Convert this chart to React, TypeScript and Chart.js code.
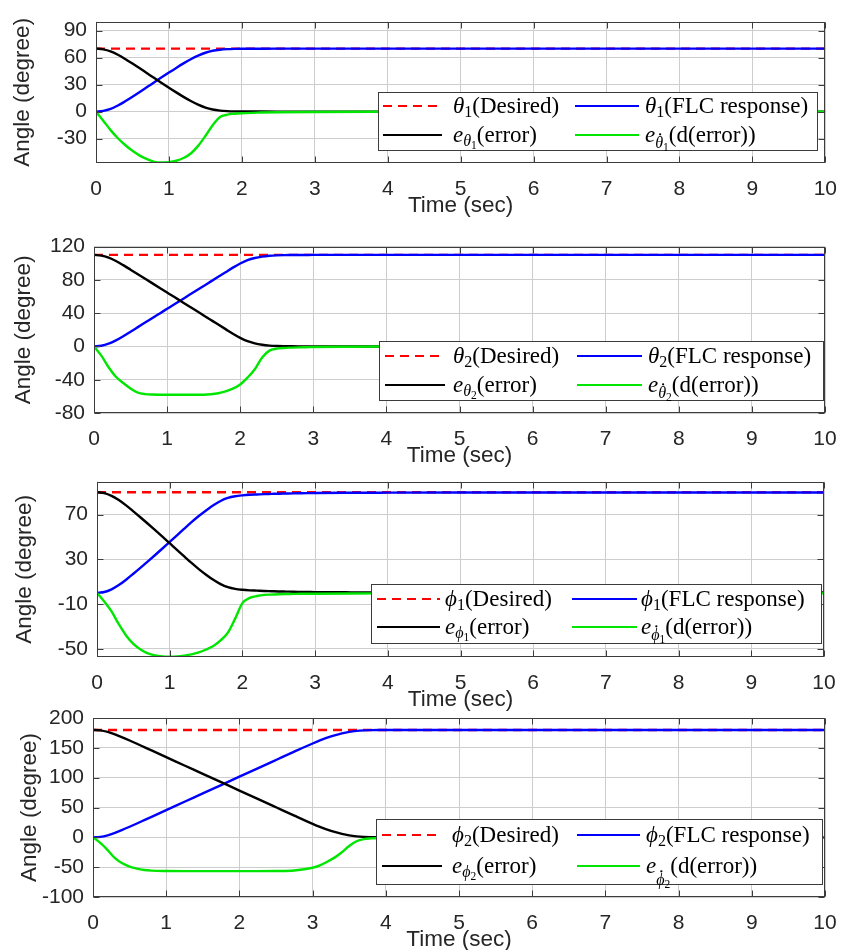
import React, { useEffect, useRef } from 'react';
import { Chart, registerables } from 'chart.js';

Chart.register(...registerables);

// ---------------- data ----------------
const X_TICKS = [0, 1, 2, 3, 4, 5, 6, 7, 8, 9, 10];
const T_DESIRED = [0, 10];

// Panel 1: theta_1
const T1 = [0, 0.1, 0.2, 0.3, 0.4, 0.5, 0.6, 0.7, 0.8, 0.9, 1.0, 1.1, 1.2, 1.3, 1.4, 1.5, 1.6, 1.7, 1.8, 1.9, 2.0, 2.25, 2.5, 3, 4, 5, 6, 7, 8, 9, 10];
const DES1 = [70, 70];
const RESP1 = [0, 0.8, 3.0, 6.8, 11.5, 16.6, 21.9, 27.3, 32.7, 38.1, 43.4, 48.6, 53.6, 58.2, 62.2, 65.4, 67.6, 68.8, 69.4, 69.7, 69.85, 69.9, 69.95, 70, 70, 70, 70, 70, 70, 70, 70];
const ERR1 = [70, 69.2, 67, 63.2, 58.5, 53.4, 48.1, 42.7, 37.3, 31.9, 26.6, 21.4, 16.4, 11.8, 7.8, 4.6, 2.4, 1.2, 0.6, 0.3, 0.15, 0.1, 0.05, 0, 0, 0, 0, 0, 0, 0, 0];
const DERR1 = [0, -10, -20.5, -29.5, -37, -43.5, -48.8, -52.8, -55.8, -56.5, -56, -54.5, -51.5, -46.5, -38, -27, -15, -6, -3.3, -2.3, -1.7, -1, -0.6, -0.3, -0.1, 0, 0, 0, 0, 0, 0];
const Y1_TICKS = [-30, 0, 30, 60, 90];
const Y1_RANGE = [-57, 100];

// Panel 2: theta_2
const T2 = [0, 0.1, 0.2, 0.3, 0.4, 0.5, 0.6, 0.7, 0.8, 0.9, 1.0, 1.1, 1.2, 1.3, 1.4, 1.5, 1.6, 1.7, 1.8, 1.9, 2.0, 2.1, 2.2, 2.3, 2.4, 2.5, 2.6, 2.7, 2.8, 2.9, 3.0, 3.5, 4, 5, 6, 7, 8, 9, 10];
const DES2 = [110, 110];
const RESP2 = [0, 0.8, 3.3, 7.3, 12.3, 17.7, 23.2, 28.7, 34.2, 39.7, 45.2, 50.7, 56.2, 61.7, 67.2, 72.7, 78.2, 83.7, 89.2, 94.7, 99.7, 103.7, 106.3, 108, 109, 109.5, 109.75, 109.85, 109.92, 109.96, 110, 110, 110, 110, 110, 110, 110, 110, 110];
const ERR2 = [110, 109.2, 106.7, 102.7, 97.7, 92.3, 86.8, 81.3, 75.8, 70.3, 64.8, 59.3, 53.8, 48.3, 42.8, 37.3, 31.8, 26.3, 20.8, 15.3, 10.3, 6.3, 3.7, 2, 1, 0.5, 0.25, 0.15, 0.08, 0.04, 0, 0, 0, 0, 0, 0, 0, 0, 0];
const DERR2 = [0, -11, -25, -36.5, -44, -50.5, -55.5, -57.3, -57.8, -58, -58, -58, -58, -58, -58, -58, -57.5, -56.3, -54, -50.7, -45.7, -37.5, -27.5, -13.3, -5, -2.7, -1.8, -1.4, -1.1, -0.9, -0.7, -0.3, -0.1, 0, 0, 0, 0, 0, 0];
const Y2_TICKS = [-80, -40, 0, 40, 80, 120];
const Y2_RANGE = [-80, 120];

// Panel 3: phi_1
const T3 = [0, 0.1, 0.2, 0.3, 0.4, 0.5, 0.6, 0.7, 0.8, 0.9, 1.0, 1.1, 1.2, 1.3, 1.4, 1.5, 1.6, 1.7, 1.8, 1.9, 2.0, 2.1, 2.2, 2.3, 2.4, 2.5, 2.6, 2.7, 2.8, 2.9, 3.0, 3.5, 4, 5, 6, 7, 8, 9, 10];
const DES3 = [90, 90];
const RESP3 = [0, 0.8, 3.2, 7.0, 11.8, 17.1, 22.6, 28.2, 33.9, 39.7, 45.6, 51.5, 57.4, 63.2, 68.7, 73.7, 78.3, 82.2, 84.9, 86.4, 87.2, 87.7, 88.0, 88.3, 88.5, 88.7, 88.85, 89.0, 89.1, 89.2, 89.3, 89.5, 89.6, 89.7, 89.7, 89.7, 89.7, 89.7, 89.7];
const ERR3 = [90, 89.2, 86.8, 83, 78.2, 72.9, 67.4, 61.8, 56.1, 50.3, 44.4, 38.5, 32.6, 26.8, 21.3, 16.3, 11.7, 7.8, 5.1, 3.6, 2.8, 2.3, 2.0, 1.7, 1.5, 1.3, 1.15, 1.0, 0.9, 0.8, 0.7, 0.5, 0.4, 0.3, 0.3, 0.3, 0.3, 0.3, 0.3];
const DERR3 = [0, -7.7, -16.5, -28, -38, -45.5, -50.5, -54, -55.8, -56.7, -57, -56.8, -56.1, -55, -53.2, -50.6, -47.5, -42.5, -35.5, -23, -9.1, -4.5, -2.8, -1.8, -1.5, -1.2, -1, -0.9, -0.8, -0.75, -0.7, -0.5, -0.4, -0.3, -0.3, -0.3, -0.3, -0.3, -0.3];
const Y3_TICKS = [-50, -10, 30, 70];
const Y3_RANGE = [-57.3, 99.5];

// Panel 4: phi_2
const T4 = [0, 0.1, 0.2, 0.3, 0.4, 0.5, 0.6, 0.7, 0.8, 1.0, 1.25, 1.5, 1.75, 2.0, 2.25, 2.5, 2.75, 3.0, 3.1, 3.2, 3.3, 3.4, 3.5, 3.6, 3.7, 3.8, 3.9, 4.0, 4.5, 5, 6, 7, 8, 9, 10];
const DES4 = [180, 180];
const RESP4 = [0, 0.8, 3.4, 7.5, 12.4, 17.7, 23.2, 28.8, 34.4, 45.6, 59.6, 73.6, 87.6, 101.6, 115.6, 129.6, 143.6, 157.3, 162.4, 167, 171, 174.3, 176.8, 178.4, 179.3, 179.7, 179.9, 179.95, 180, 180, 180, 180, 180, 180, 180];
const ERR4 = [180, 179.2, 176.6, 172.5, 167.6, 162.3, 156.8, 151.2, 145.6, 134.4, 120.4, 106.4, 92.4, 78.4, 64.4, 50.4, 36.4, 22.7, 17.6, 13, 9, 5.7, 3.2, 1.6, 0.7, 0.3, 0.1, 0.05, 0, 0, 0, 0, 0, 0, 0];
const DERR4 = [0, -9.4, -21.5, -35, -43.5, -49, -52.5, -54.7, -55.8, -56.5, -56.7, -56.7, -56.7, -56.7, -56.7, -56.5, -55.6, -51, -47, -41, -34, -25, -14.5, -6.5, -3, -1.8, -1.2, -0.9, -0.5, -0.2, -0.1, 0, 0, 0, 0];
const Y4_TICKS = [-100, -50, 0, 50, 100, 150, 200];
const Y4_RANGE = [-100, 200];

// Text
const X_TITLE = 'Time (sec)';
const Y_TITLE = 'Angle (degree)';
const SYMBOLS = ['θ', 'θ', 'ϕ', 'ϕ'];
const INDICES = ['1', '2', '1', '2'];
const LBL_DESIRED = '(Desired)';
const LBL_RESP = '(FLC response)';
const LBL_ERR = '(error)';
const LBL_DERR = '(d(error))';

// ---------------- styles ----------------
const SANS = '"Liberation Sans", Arial, Helvetica, sans-serif';
const SERIF = '"Liberation Serif", "DejaVu Serif", serif';
const INK = '#262626';
const GRID = '#cdcdcd';
const FRAME = '#3c3c3c';
const C_DES = '#ff0000';
const C_RESP = '#0000ff';
const C_ERR = '#000000';
const C_DERR = '#00e600';
const DASH = [9, 6];

type Part = { t: string; it?: boolean; s?: number; dy?: number; dot?: boolean };

function drawRich(ctx: CanvasRenderingContext2D, x: number, y: number, parts: Part[], base: number) {
  let cx = x;
  for (const p of parts) {
    const size = base * (p.s ?? 1);
    ctx.font = `${p.it ? 'italic ' : ''}${size}px ${SERIF}`;
    const yy = y + (p.dy ?? 0);
    ctx.fillText(p.t, cx, yy);
    const w = ctx.measureText(p.t).width;
    if (p.dot) {
      ctx.beginPath();
      ctx.arc(cx + w * 0.62, yy - size * 0.85, Math.max(1, size * 0.07), 0, Math.PI * 2);
      ctx.fill();
    }
    cx += w;
  }
}

type PanelCfg = {
  top: number; L: number; T: number; R: number; B: number; ytx: number;
  t: number[]; des: number[]; resp: number[]; err: number[]; derr: number[];
  yt: number[]; yr: number[]; sym: string; idx: string;
  lg: { box: number[]; rows: number[]; c1: number[]; c2: number[]; drop: number };
};

const PANELS: PanelCfg[] = [
  { top: 0, L: 96, T: 7, R: 826, B: 163, ytx: 23, t: T1, des: DES1, resp: RESP1, err: ERR1, derr: DERR1, yt: Y1_TICKS, yr: Y1_RANGE, sym: SYMBOLS[0], idx: INDICES[0],
    lg: { box: [378, 92, 818, 151], rows: [106, 135], c1: [383, 442, 453], c2: [575, 639, 645], drop: 0 } },
  { top: 225, L: 94, T: 238, R: 825, B: 413, ytx: 24, t: T2, des: DES2, resp: RESP2, err: ERR2, derr: DERR2, yt: Y2_TICKS, yr: Y2_RANGE, sym: SYMBOLS[1], idx: INDICES[1],
    lg: { box: [379, 341, 824, 401], rows: [356, 385], c1: [385, 445, 453], c2: [577, 642, 648], drop: 0 } },
  { top: 460, L: 97, T: 475, R: 824, B: 657, ytx: 25, t: T3, des: DES3, resp: RESP3, err: ERR3, derr: DERR3, yt: Y3_TICKS, yr: Y3_RANGE, sym: SYMBOLS[2], idx: INDICES[2],
    lg: { box: [371, 584, 822, 644], rows: [599, 627], c1: [377, 440, 445], c2: [572, 637, 641], drop: 0 } },
  { top: 695, L: 93, T: 718, R: 825, B: 897, ytx: 30, t: T4, des: DES4, resp: RESP4, err: ERR4, derr: DERR4, yt: Y4_TICKS, yr: Y4_RANGE, sym: SYMBOLS[3], idx: INDICES[3],
    lg: { box: [376, 819, 823, 885], rows: [835, 866], c1: [382, 442, 452], c2: [577, 640, 646], drop: 6 } },
];

const X_AXIS_H = 56;

function Panel({ cfg }: { cfg: PanelCfg }) {
  const ref = useRef<HTMLCanvasElement>(null);
  const H = cfg.B - cfg.top + X_AXIS_H;

  useEffect(() => {
    const c = cfg;
    const pts = (t: number[], v: number[]) => t.map((x, i) => ({ x, y: v[i] }));

    const figPlugin = {
      id: 'mfig',
      afterDatasetsDraw(chart: any) {
        const ctx: CanvasRenderingContext2D = chart.ctx;
        const { left, top, right, bottom } = chart.chartArea;
        const xs = chart.scales.x;
        const ys = chart.scales.y;
        const l = Math.round(left) + 0.5, r = Math.round(right) - 0.5;
        const tp = Math.round(top) + 0.5, b = Math.round(bottom) - 0.5;
        ctx.save();
        ctx.strokeStyle = FRAME;
        ctx.lineWidth = 1;
        ctx.setLineDash([]);
        ctx.beginPath();
        const tk = 6;
        for (const v of X_TICKS) {
          const px = Math.round(xs.getPixelForValue(v)) + 0.5;
          ctx.moveTo(px, b); ctx.lineTo(px, b - tk);
          ctx.moveTo(px, tp); ctx.lineTo(px, tp + tk);
        }
        for (const v of c.yt) {
          const py = Math.round(ys.getPixelForValue(v)) + 0.5;
          ctx.moveTo(l, py); ctx.lineTo(l + tk, py);
          ctx.moveTo(r, py); ctx.lineTo(r - tk, py);
        }
        ctx.stroke();
        ctx.strokeRect(l, tp, r - l, b - tp);
        ctx.restore();
      },
      afterDraw(chart: any) {
        const ctx: CanvasRenderingContext2D = chart.ctx;
        const g = c.lg;
        const oy = c.top;
        ctx.save();
        const [bx1, by1, bx2, by2] = g.box;
        ctx.fillStyle = '#ffffff';
        ctx.fillRect(bx1, by1 - oy, bx2 - bx1, by2 - by1);
        ctx.strokeStyle = FRAME;
        ctx.lineWidth = 1;
        ctx.strokeRect(bx1 + 0.5, by1 - oy + 0.5, bx2 - bx1 - 1, by2 - by1 - 1);

        const sample = (x1: number, x2: number, y: number, color: string, dash: number[]) => {
          ctx.beginPath();
          ctx.setLineDash(dash);
          ctx.strokeStyle = color;
          ctx.lineWidth = 2.2;
          ctx.moveTo(x1, y);
          ctx.lineTo(x2, y);
          ctx.stroke();
          ctx.setLineDash([]);
        };
        const r1 = g.rows[0] - oy, r2 = g.rows[1] - oy;
        sample(g.c1[0], g.c1[1], r1, C_DES, DASH);
        sample(g.c2[0], g.c2[1], r1, C_RESP, []);
        sample(g.c1[0], g.c1[1], r2, C_ERR, []);
        sample(g.c2[0], g.c2[1], r2, C_DERR, []);

        ctx.fillStyle = '#000000';
        ctx.textBaseline = 'alphabetic';
        ctx.textAlign = 'left';
        const base = 23;
        const bl = 7;
        drawRich(ctx, g.c1[2], r1 + bl, [
          { t: c.sym, it: true }, { t: c.idx, s: 0.7, dy: 4 }, { t: LBL_DESIRED },
        ], base);
        drawRich(ctx, g.c2[2], r1 + bl, [
          { t: c.sym, it: true }, { t: c.idx, s: 0.7, dy: 4 }, { t: LBL_RESP },
        ], base);
        drawRich(ctx, g.c1[2], r2 + bl, [
          { t: 'e', it: true }, { t: c.sym, it: true, s: 0.7, dy: 4 }, { t: c.idx, s: 0.5, dy: 7 }, { t: LBL_ERR },
        ], base);
        drawRich(ctx, g.c2[2], r2 + bl, [
          { t: 'e', it: true }, { t: c.sym, it: true, s: 0.7, dy: 6 + g.drop, dot: true }, { t: c.idx, s: 0.5, dy: 9 + g.drop }, { t: LBL_DERR },
        ], base);
        ctx.restore();
      },
    };

    const common = { borderWidth: 2.4, pointRadius: 0, fill: false, cubicInterpolationMode: 'monotone' as const };

    const chart = new Chart(ref.current as HTMLCanvasElement, {
      type: 'line',
      data: {
        datasets: [
          { ...common, label: 'desired', data: pts(T_DESIRED, c.des), borderColor: C_DES, borderDash: DASH, order: 3 },
          { ...common, label: 'response', data: pts(c.t, c.resp), borderColor: C_RESP, order: 2 },
          { ...common, label: 'error', data: pts(c.t, c.err), borderColor: C_ERR, order: 1 },
          { ...common, label: 'derror', data: pts(c.t, c.derr), borderColor: C_DERR, order: 0 },
        ],
      },
      options: {
        animation: false,
        responsive: false,
        devicePixelRatio: 1,
        parsing: false as any,
        normalized: true,
        layout: { padding: { top: c.T - c.top, right: 851 - c.R, bottom: 0, left: 0 } },
        plugins: { legend: { display: false }, tooltip: { enabled: false } },
        scales: {
          x: {
            type: 'linear',
            min: 0,
            max: 10,
            afterBuildTicks: (s: any) => { s.ticks = X_TICKS.map((v) => ({ value: v })); },
            afterFit: (s: any) => { s.height = X_AXIS_H; },
            grid: { color: GRID, drawTicks: false, lineWidth: 1 },
            border: { display: false },
            ticks: { color: INK, font: { family: SANS, size: 21 }, padding: 14, maxRotation: 0, autoSkip: false },
            title: { display: true, text: X_TITLE, color: INK, font: { family: SANS, size: 22.5 }, padding: 0 },
          },
          y: {
            type: 'linear',
            min: c.yr[0],
            max: c.yr[1],
            afterBuildTicks: (s: any) => { s.ticks = c.yt.map((v) => ({ value: v })); },
            afterFit: (s: any) => { s.width = c.L; },
            grid: { color: GRID, drawTicks: false, lineWidth: 1 },
            border: { display: false },
            ticks: { color: INK, font: { family: SANS, size: 21 }, padding: 9, autoSkip: false },
            title: { display: true, text: Y_TITLE, color: INK, font: { family: SANS, size: 22.5 }, padding: { top: c.ytx - 13.5, bottom: 0 } },
          },
        },
      } as any,
      plugins: [figPlugin],
    });
    return () => chart.destroy();
  }, []);

  return (
    <canvas
      ref={ref}
      width={851}
      height={H}
      style={{ position: 'absolute', left: 0, top: cfg.top, width: 851, height: H, display: 'block' }}
    />
  );
}

export default function App() {
  return (
    <div style={{ position: 'absolute', left: 0, top: 0, width: 851, height: 950, overflow: 'hidden', background: '#ffffff' }}>
      {PANELS.map((p, i) => (
        <Panel key={i} cfg={p} />
      ))}
    </div>
  );
}
